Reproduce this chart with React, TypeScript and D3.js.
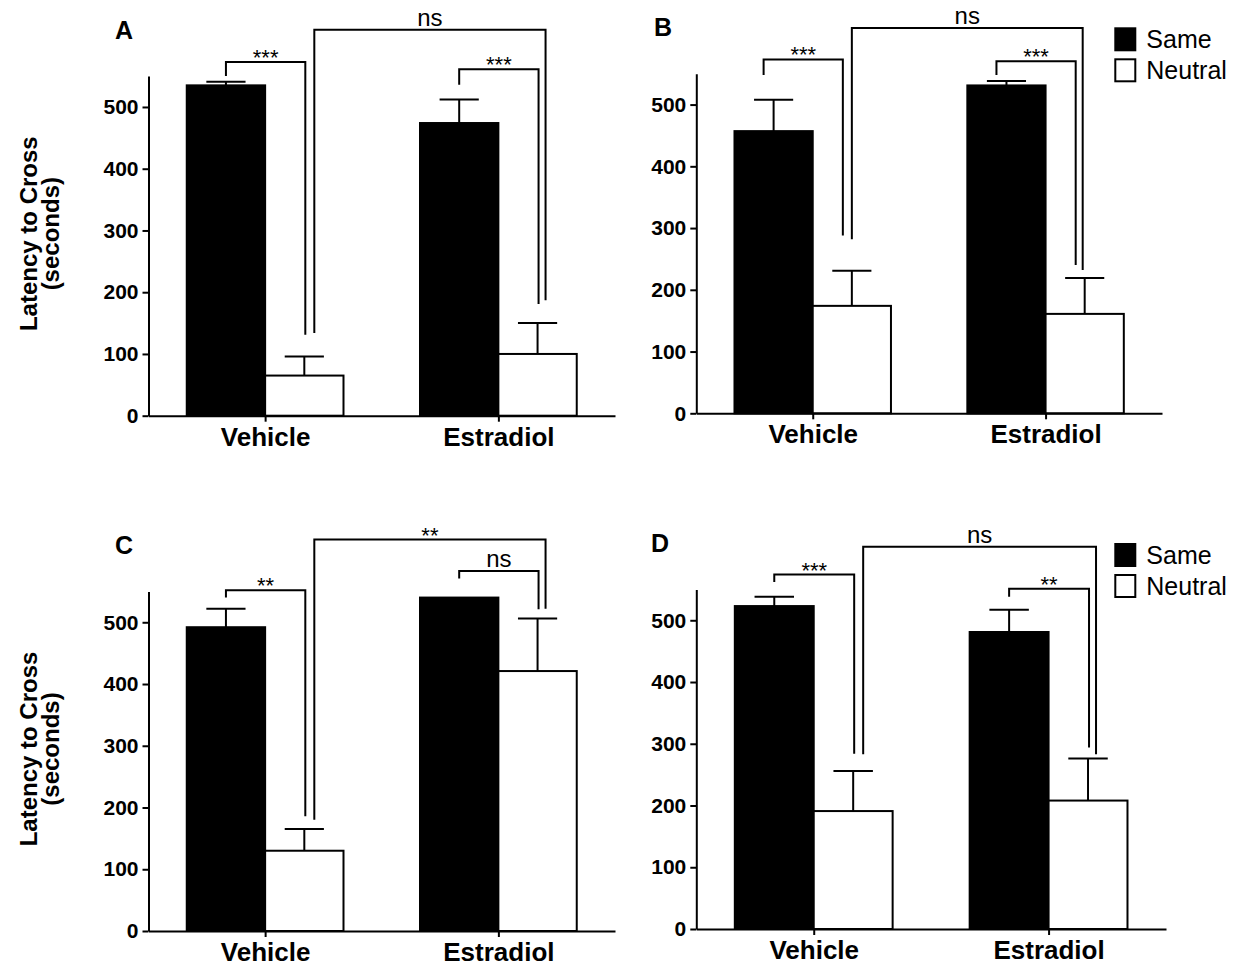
import React, { useRef, useEffect } from 'react';
import * as d3 from 'd3';

const groups = ['Vehicle', 'Estradiol'];
const seriesNames = ['Same', 'Neutral'];
const yTicks = [0, 100, 200, 300, 400, 500];

// mean latency (s) per group: [Same, Neutral]
const meanA = [[535, 65], [474, 100]];
const semA = [[6, 31], [38, 50]];
const meanB = [[457, 174], [531, 161]];
const semB = [[51, 57], [7, 58]];
const meanC = [[492, 130], [540, 421]];
const semC = [[30, 35], [0, 85]];
const meanD = [[523, 191], [481, 208]];
const semD = [[15, 65], [36, 68]];

// significance brackets: from [group, series] to [group, series], heights in seconds
const sigA = [
  { from: [0, 0], to: [0, 1], top: 573, leftEnd: 550, rightEnd: 131, label: '***' },
  { from: [0, 1], to: [1, 1], top: 625, leftEnd: 134, rightEnd: 187, label: 'ns' },
  { from: [1, 0], to: [1, 1], top: 561, leftEnd: 536, rightEnd: 181, label: '***' },
];
const sigB = [
  { from: [0, 0], to: [0, 1], top: 573, leftEnd: 548, rightEnd: 288, label: '***' },
  { from: [0, 1], to: [1, 1], top: 624, leftEnd: 282, rightEnd: 232, label: 'ns' },
  { from: [1, 0], to: [1, 1], top: 570, leftEnd: 548, rightEnd: 240, label: '***' },
];
const sigC = [
  { from: [0, 0], to: [0, 1], top: 552, leftEnd: 540, rightEnd: 186, label: '**' },
  { from: [0, 1], to: [1, 1], top: 634, leftEnd: 180, rightEnd: 522, label: '**' },
  { from: [1, 0], to: [1, 1], top: 583, leftEnd: 571, rightEnd: 521, label: 'ns' },
];
const sigD = [
  { from: [0, 0], to: [0, 1], top: 574, leftEnd: 562, rightEnd: 284, label: '***' },
  { from: [0, 1], to: [1, 1], top: 619, leftEnd: 283, rightEnd: 283, label: 'ns' },
  { from: [1, 0], to: [1, 1], top: 551, leftEnd: 538, rightEnd: 294, label: '**' },
];

const panels = [
  { id: 'A', mean: meanA, sem: semA, sig: sigA, x0: 148.5, x1: 615, y0: 415.7, lx: 115, shift: 0, yLabel: true, legend: false },
  { id: 'B', mean: meanB, sem: semB, sig: sigB, x0: 696.3, x1: 1162, y0: 413.3, lx: 654, shift: -10, yLabel: false, legend: true },
  { id: 'C', mean: meanC, sem: semC, sig: sigC, x0: 148.5, x1: 615, y0: 931, lx: 115, shift: 0, yLabel: true, legend: false },
  { id: 'D', mean: meanD, sem: semD, sig: sigD, x0: 696.3, x1: 1166, y0: 929, lx: 651, shift: 0, yLabel: false, legend: true },
];

const FONT = '"Liberation Sans", Arial, Helvetica, sans-serif';

const App = () => {
  const svgRef = useRef(null);

  useEffect(() => {
    const svg = d3.select(svgRef.current);
    svg.selectAll('*').remove();

    panels.forEach((p) => {
      const g = svg.append('g').attr('font-family', FONT);

      const y = d3.scaleLinear().domain([0, 550]).range([p.y0, p.y0 - 339.6]);
      const x = d3.scalePoint().domain(groups).range([p.x0, p.x1]).padding(0.5);
      const barW = x.step() * 0.336;
      const barLeft = (gi, si) => x(groups[gi]) + (si - 1) * barW;
      const barMid = (gi, si) => barLeft(gi, si) + barW / 2;

      const cells = [];
      groups.forEach((grp, gi) => {
        seriesNames.forEach((s, si) => {
          cells.push({ gi, si, v: p.mean[gi][si], e: p.sem[gi][si] });
        });
      });

      // error bars (upper only)
      const err = g.selectAll('.err').data(cells.filter(d => d.e > 0)).enter().append('g');
      err.append('line')
        .attr('x1', d => barMid(d.gi, d.si))
        .attr('x2', d => barMid(d.gi, d.si))
        .attr('y1', d => y(d.v))
        .attr('y2', d => y(d.v + d.e))
        .attr('stroke', '#000').attr('stroke-width', 2);
      err.append('line')
        .attr('x1', d => barMid(d.gi, d.si) - barW / 4)
        .attr('x2', d => barMid(d.gi, d.si) + barW / 4)
        .attr('y1', d => y(d.v + d.e))
        .attr('y2', d => y(d.v + d.e))
        .attr('stroke', '#000').attr('stroke-width', 2);

      // bars
      g.selectAll('.bar').data(cells).enter().append('rect')
        .attr('x', d => barLeft(d.gi, d.si))
        .attr('y', d => y(d.v))
        .attr('width', barW)
        .attr('height', d => y(0) - y(d.v))
        .attr('fill', d => (d.si === 0 ? '#000' : '#fff'))
        .attr('stroke', '#000')
        .attr('stroke-width', 2);

      // axes
      const yAxis = g.append('g')
        .attr('transform', `translate(${p.x0},0)`)
        .call(d3.axisLeft(y).tickValues(yTicks).tickSize(6).tickSizeOuter(0).tickPadding(4));
      const xAxis = g.append('g')
        .attr('transform', `translate(0,${p.y0})`)
        .call(d3.axisBottom(x).tickSize(6).tickSizeOuter(0));

      [xAxis, yAxis].forEach((axis) => {
        axis.select('.domain').attr('stroke', '#000').attr('stroke-width', 2);
        axis.selectAll('.tick line').attr('stroke', '#000').attr('stroke-width', 2);
        axis.selectAll('.tick text')
          .attr('fill', '#000')
          .attr('font-family', FONT)
          .attr('font-weight', 'bold');
      });
      yAxis.selectAll('.tick text').attr('font-size', 21);
      xAxis.selectAll('.tick text')
        .attr('font-size', 26)
        .attr('y', 30)
        .attr('dy', null);

      // significance brackets
      p.sig.forEach((b) => {
        const same = b.from[0] === b.to[0];
        const xl = p.shift + (same ? barMid(b.from[0], b.from[1]) : barMid(b.from[0], b.from[1]) + 10);
        const xr = p.shift + (same ? barMid(b.to[0], b.to[1]) + 1 : barMid(b.to[0], b.to[1]) + 8);
        g.append('path')
          .attr('d', `M${xl},${y(b.leftEnd)}V${y(b.top)}H${xr}V${y(b.rightEnd)}`)
          .attr('fill', 'none')
          .attr('stroke', '#000')
          .attr('stroke-width', 2);
        const star = b.label !== 'ns';
        g.append('text')
          .attr('x', (xl + xr) / 2)
          .attr('y', star ? y(b.top) + 3 : y(b.top) - 4)
          .attr('text-anchor', 'middle')
          .attr('font-size', star ? 22 : 24)
          .attr('fill', '#000')
          .text(b.label);
      });

      // panel letter
      g.append('text')
        .attr('x', p.lx)
        .attr('y', p.y0 - 377)
        .attr('font-size', 25)
        .attr('font-weight', 'bold')
        .attr('fill', '#000')
        .text(p.id);

      // y label
      if (p.yLabel) {
        const cy = p.y0 - 182;
        ['Latency to Cross', '(seconds)'].forEach((t, i) => {
          g.append('text')
            .attr('transform', `translate(${37 + i * 22},${cy}) rotate(-90)`)
            .attr('text-anchor', 'middle')
            .attr('font-size', 24)
            .attr('font-weight', 'bold')
            .attr('fill', '#000')
            .text(t);
        });
      }

      // legend
      if (p.legend) {
        const lx = p.x0 + 419;
        const ly = p.y0 - 385;
        seriesNames.forEach((s, si) => {
          g.append('rect')
            .attr('x', lx)
            .attr('y', ly + si * 31)
            .attr('width', 20)
            .attr('height', 22)
            .attr('fill', si === 0 ? '#000' : '#fff')
            .attr('stroke', '#000')
            .attr('stroke-width', 2);
          g.append('text')
            .attr('x', lx + 31)
            .attr('y', ly + si * 31 + 20)
            .attr('font-size', 25)
            .attr('fill', '#000')
            .text(s);
        });
      }
    });
  }, []);

  return (
    <svg
      ref={svgRef}
      width={1234}
      height={966}
      style={{ position: 'absolute', left: 0, top: 0, background: '#fff' }}
    />
  );
};

export default App;
